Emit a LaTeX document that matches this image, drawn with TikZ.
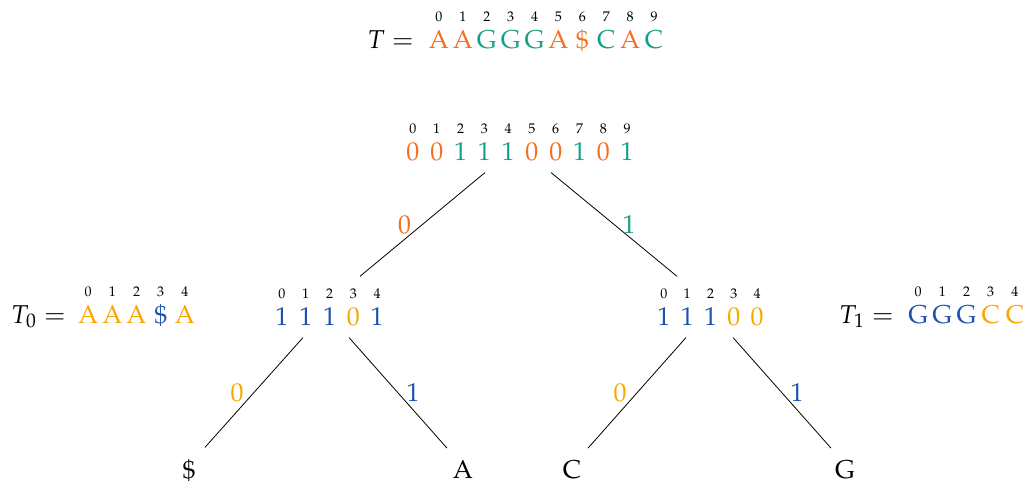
\documentclass[tikz,border=0pt]{standalone}
\usepackage[T1]{fontenc}
\usepackage{mathpazo}
\usepackage{xcolor}
\definecolor{cor}{RGB}{243,112,33}
\definecolor{cgr}{RGB}{22,160,133}
\definecolor{cbl}{RGB}{30,82,176}
\definecolor{cye}{RGB}{250,166,0}
\newlength\cw
\setlength\cw{11.9pt}
\newcommand\idxfont{\fontsize{7}{8}\selectfont\color{black}}
\newcommand\cc[3]{\makebox[\cw][c]{\textcolor{#3}{#2}}\llap{\makebox[\cw][c]{\raisebox{13.5pt}{\idxfont #1}}}}
\begin{document}
\begin{tikzpicture}[x=0.5pt,y=-0.5pt,
  bigfont/.style={font=\fontsize{12.9}{15}\selectfont},
  bv/.style={bigfont, inner sep=0pt, outer xsep=0pt, outer ysep=6pt, anchor=base},
  lbl/.style={bigfont, inner sep=0pt, anchor=base east},
  leaf/.style={bigfont, inner sep=0pt, outer ysep=6pt, anchor=base},
  elab/.style={bigfont, inner sep=0pt, anchor=center},
  edge/.style={draw=black, line width=0.4pt}]
\useasboundingbox (0,0) rectangle (1027,483);

% top string T
\node[lbl] (Tl) at (414,48) {$T=$};
\node[bv] (Ts) at (546.5,48) {\setlength\cw{11.95pt}%
  \cc{0}{A}{cor}\cc{1}{A}{cor}\cc{2}{G}{cgr}\cc{3}{G}{cgr}\cc{4}{G}{cgr}%
  \cc{5}{A}{cor}\cc{6}{\$}{cor}\cc{7}{C}{cgr}\cc{8}{A}{cor}\cc{9}{C}{cgr}};

% root bitvector
\node[bv] (root) at (520,160) {\setlength\cw{11.9pt}%
  \cc{0}{0}{cor}\cc{1}{0}{cor}\cc{2}{1}{cgr}\cc{3}{1}{cgr}\cc{4}{1}{cgr}%
  \cc{5}{0}{cor}\cc{6}{0}{cor}\cc{7}{1}{cgr}\cc{8}{0}{cor}\cc{9}{1}{cgr}};

% left child
\node[bv] (lc) at (329.5,325) {\setlength\cw{11.9pt}%
  \cc{0}{1}{cbl}\cc{1}{1}{cbl}\cc{2}{1}{cbl}\cc{3}{0}{cye}\cc{4}{1}{cbl}};
% right child
\node[bv] (rc) at (710.5,325) {\setlength\cw{11.65pt}%
  \cc{0}{1}{cbl}\cc{1}{1}{cbl}\cc{2}{1}{cbl}\cc{3}{0}{cye}\cc{4}{0}{cye}};

% T0 and T1
\node[lbl] (T0l) at (66,323) {$T_0=$};
\node[bv] (T0s) at (136.5,323) {\setlength\cw{12.1pt}%
  \cc{0}{A}{cye}\cc{1}{A}{cye}\cc{2}{A}{cye}\cc{3}{\$}{cbl}\cc{4}{A}{cye}};
\node[lbl] (T1l) at (894,323) {$T_1=$};
\node[bv] (T1s) at (966.5,323) {\setlength\cw{12.1pt}%
  \cc{0}{G}{cbl}\cc{1}{G}{cbl}\cc{2}{G}{cbl}\cc{3}{C}{cye}\cc{4}{C}{cye}};

% leaves
\node[leaf] (l1) at (189,478) {\$};
\node[leaf] (l2) at (463,478) {A};
\node[leaf] (l3) at (572,478) {C};
\node[leaf] (l4) at (845,478) {G};

% edges
\draw[edge] ([xshift=-17.5pt]root.south) -- node[elab, xshift=-9pt, text=cor] {0} ([xshift=15.25pt]lc.north);
\draw[edge] ([xshift=15.5pt]root.south) -- node[elab, xshift=7.5pt, text=cgr] {1} ([xshift=-16.75pt]rc.north);
\draw[edge] ([xshift=-13.25pt]lc.south) -- node[elab, xshift=-8.5pt, text=cye] {0} ([xshift=8pt]l1.north);
\draw[edge] ([xshift=9.75pt]lc.south) -- node[elab, xshift=7.5pt, text=cbl] {1} ([xshift=-8pt]l2.north);
\draw[edge] ([xshift=-12.25pt]rc.south) -- node[elab, xshift=-8.5pt, text=cye] {0} ([xshift=8pt]l3.north);
\draw[edge] ([xshift=11.25pt]rc.south) -- node[elab, xshift=7.5pt, text=cbl] {1} ([xshift=-7pt]l4.north);
\end{tikzpicture}
\end{document}
